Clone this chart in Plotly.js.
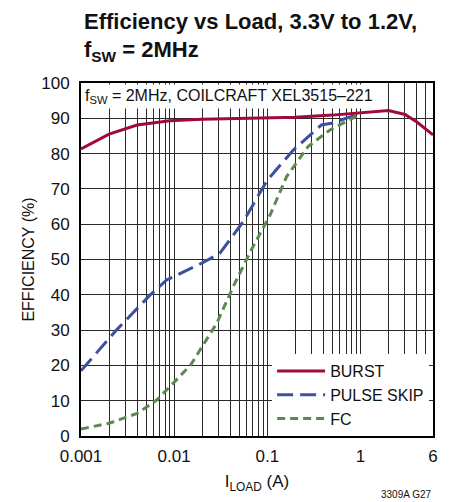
<!DOCTYPE html>
<html><head><meta charset="utf-8">
<script src="https://cdn.plot.ly/plotly-3.0.1.min.js"></script>
<style>html,body{margin:0;padding:0;background:#fff}#c{width:453px;height:502px}</style>
</head><body><div id="c"></div>
<script>
// Data
const burstX = [0.001, 0.002, 0.004, 0.009, 0.02, 0.05, 0.1, 0.2, 0.5, 1, 2, 3, 4, 6];
const burstY = [81.3, 85.5, 88.1, 89.3, 89.7, 90.0, 90.2, 90.3, 90.9, 91.5, 92.2, 91.1, 89.0, 85.3];
const psX = [0.001, 0.0024, 0.0055, 0.0083, 0.02, 0.031, 0.055, 0.1, 0.19, 0.38, 0.49, 0.77, 1];
const psY = [18.5, 30.0, 39.9, 44.2, 49.0, 51.8, 60.7, 72.5, 81.0, 88.1, 88.6, 90.5, 91.4];
const fcX = [0.001, 0.002, 0.004, 0.0065, 0.009, 0.015, 0.0286, 0.043, 0.066, 0.107, 0.161, 0.274, 0.47, 0.77, 1];
const fcY = [2.0, 3.6, 6.4, 10.2, 14.0, 20.1, 31.9, 42.3, 52.3, 62.6, 73.5, 82.0, 86.7, 89.8, 91.2];
const seriesNames = ["BURST", "PULSE SKIP", "FC"];
const xTickVals = [0.001, 0.01, 0.1, 1, 6];
const xTickText = ["0.001", "0.01", "0.1", "1", "6"];

const F = "'Liberation Sans Narrow', 'Arial Narrow', 'Liberation Sans', Arial, sans-serif";
const minorVals = [];
for (let e = -3; e <= 0; e++) for (let d = 2; d <= 9; d++) { const v = d * Math.pow(10, e); if (v < 6) minorVals.push(v); }

const traces = [
  {x: burstX, y: burstY, name: seriesNames[0], mode: 'lines', line: {color: '#9E0A3B', width: 3}, legendrank: 1},
  {x: psX, y: psY, name: seriesNames[1], mode: 'lines', line: {color: '#3D4FA0', width: 3, dash: '16px,7px'}, legendrank: 2},
  {x: fcX, y: fcY, name: seriesNames[2], mode: 'lines', line: {color: '#5B8A4E', width: 3, dash: '8px,5px'}, legendrank: 3}
];
// draw burst on top
const data = [traces[1], traces[2], traces[0]];

const layout = {
  width: 453, height: 502,
  margin: {l: 81, r: 20, t: 83, b: 66},
  paper_bgcolor: '#fff', plot_bgcolor: '#fff',
  font: {family: F, color: '#111', size: 17},
  title: {text: '<b>Efficiency vs Load, 3.3V to 1.2V,<br>f<sub>SW</sub> = 2MHz</b>', x: 84/453, xanchor: 'left', xref: 'container',
          y: 0.943, yanchor: 'top', yref: 'container', font: {family: F, size: 22, color: '#111'}},
  xaxis: {type: 'log', range: [-3, Math.log10(6)], tickvals: xTickVals, ticktext: xTickText,
          showgrid: true, gridcolor: '#2a2a2a', gridwidth: 1, zeroline: false,
          showline: true, linecolor: '#000', linewidth: 2, mirror: true, ticks: '',
          tickfont: {size: 17}, ticklabelstandoff: 4,
          minor: {tickmode: 'array', tickvals: minorVals, showgrid: true, gridcolor: '#2a2a2a', gridwidth: 1, ticks: ''},
          title: {text: 'I<sub>LOAD</sub> (A)', font: {size: 17}, standoff: 10}},
  yaxis: {range: [0, 100], dtick: 10, showgrid: true, gridcolor: '#2a2a2a', gridwidth: 1, zeroline: false,
          showline: true, linecolor: '#000', linewidth: 2, mirror: true, ticks: '',
          tickfont: {size: 17}, ticklabelstandoff: 6,
          title: {text: 'EFFICIENCY (%)', font: {size: 16}, standoff: 3}},
  showlegend: true,
  legend: {x: 0.543, y: 0, xanchor: 'left', yanchor: 'bottom', bgcolor: '#fff', borderwidth: 0,
           font: {size: 16, family: F}, traceorder: 'normal', tracegroupgap: 0, itemwidth: 48},
  annotations: [
    {text: 'f<sub>SW</sub> = 2MHz, COILCRAFT XEL3515–221', xref: 'paper', yref: 'paper', x: 0.003, y: 0.997,
     xanchor: 'left', yanchor: 'top', showarrow: false, bgcolor: '#fff', borderpad: 2,
     font: {size: 16, family: F, color: '#111'}},
    {text: '3309A G27', xref: 'paper', yref: 'paper', x: 1, y: -0.145, xanchor: 'right', yanchor: 'top',
     showarrow: false, font: {size: 10, family: F, color: '#111'}}
  ]
};
Plotly.newPlot('c', data, layout, {staticPlot: true});
</script></body></html>
